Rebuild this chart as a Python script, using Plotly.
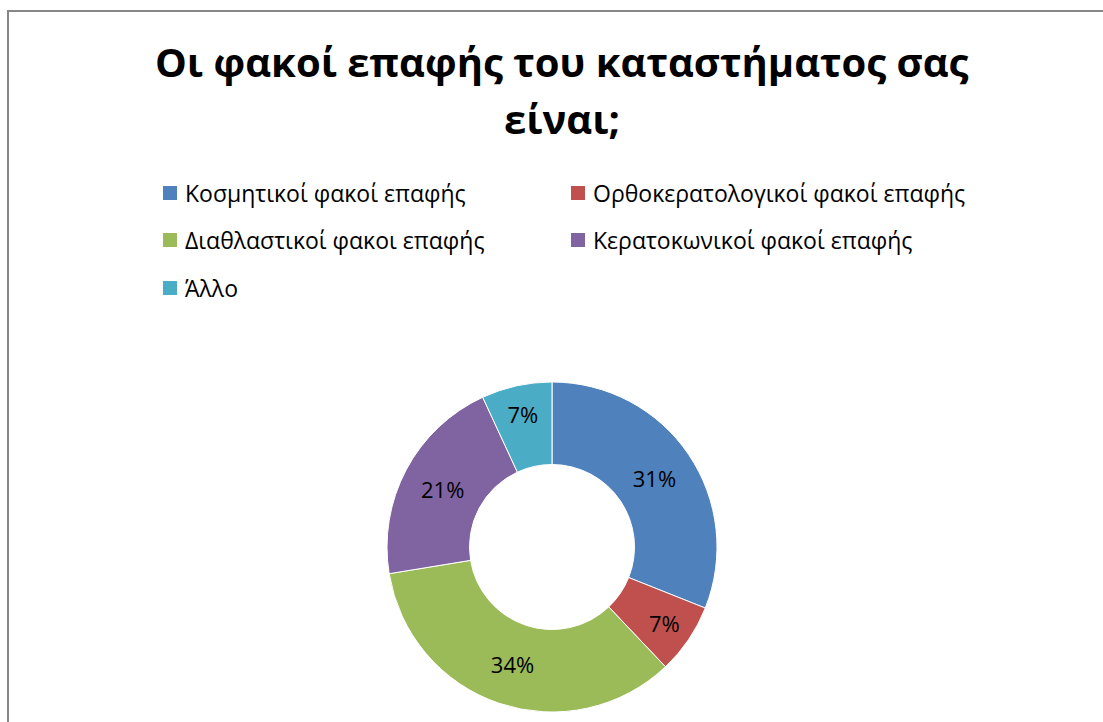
import plotly.graph_objects as go

# Survey answers: type of contact lenses the store sells
labels = [
    "Κοσμητικοί φακοί επαφής",
    "Ορθοκερατολογικοί φακοί επαφής",
    "Διαθλαστικοί φακοι επαφής",
    "Κερατοκωνικοί φακοί επαφής",
    "Άλλο",
]
counts = [9, 2, 10, 6, 2]
colors = ["#4F81BD", "#C0504D", "#9BBB59", "#8064A2", "#4BACC6"]

title_lines = ["Οι φακοί επαφής του καταστήματος σας", "είναι;"]

W, H = 1103, 722
FONT = "Open Sans"


def px_x(x):
    return x / W


def px_y(y):
    return 1 - y / H


# donut geometry (pixels)
cx, cy, r = 552, 547, 165

fig = go.Figure(
    go.Pie(
        labels=labels,
        values=counts,
        hole=0.5,
        sort=False,
        direction="clockwise",
        rotation=0,
        marker=dict(colors=colors, line=dict(color="white", width=1)),
        textinfo="percent",
        texttemplate="%{percent:.0%}",
        textposition="inside",
        insidetextorientation="horizontal",
        textfont=dict(family=FONT, size=22, color="black"),
        showlegend=False,
        domain=dict(
            x=[px_x(cx - r), px_x(cx + r)],
            y=[px_y(cy + r), px_y(cy - r)],
        ),
    )
)

annotations = []
shapes = []

# title, two centred lines
for i, (line, ymid) in enumerate(zip(title_lines, [62, 119])):
    annotations.append(
        dict(
            text=f"<b>{line}</b>",
            x=px_x(562), y=px_y(ymid), xref="paper", yref="paper",
            xanchor="center", yanchor="middle", showarrow=False,
            font=dict(family=FONT, size=40, color="black"),
        )
    )

# legend laid out in two columns
col_x = [163, 571]
row_y = [193, 240, 288]
sq = 14
for i, (lab, col) in enumerate(zip(labels, colors)):
    x0 = col_x[i % 2]
    yc = row_y[i // 2]
    shapes.append(
        dict(
            type="rect", xref="paper", yref="paper",
            x0=px_x(x0), x1=px_x(x0 + sq),
            y0=px_y(yc + sq / 2), y1=px_y(yc - sq / 2),
            fillcolor=col, line=dict(width=0),
        )
    )
    annotations.append(
        dict(
            text=lab, x=px_x(x0 + 20), y=px_y(yc), xref="paper", yref="paper",
            xanchor="left", yanchor="middle", showarrow=False,
            font=dict(family=FONT, size=23, color="black"),
        )
    )

# chart area frame
shapes.append(
    dict(
        type="rect", xref="paper", yref="paper",
        x0=px_x(8), x1=1.05, y0=-0.05, y1=px_y(11),
        line=dict(color="#878787", width=2), fillcolor="rgba(0,0,0,0)",
    )
)

fig.update_layout(
    width=W, height=H,
    margin=dict(l=0, r=0, t=0, b=0),
    paper_bgcolor="white",
    plot_bgcolor="white",
    annotations=annotations,
    shapes=shapes,
    uniformtext=dict(minsize=22, mode="show"),
)

fig.write_html("out.html")
